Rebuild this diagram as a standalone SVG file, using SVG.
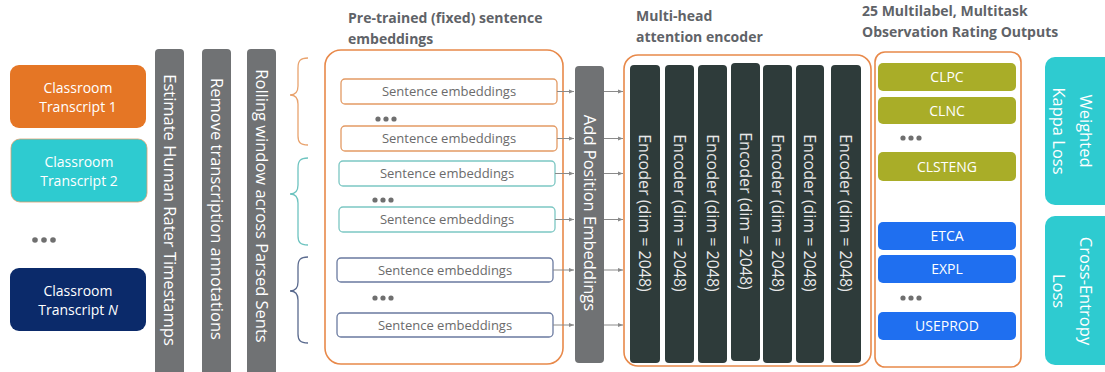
<svg xmlns="http://www.w3.org/2000/svg" width="1105" height="372" viewBox="0 0 1105 372">
<defs>
<marker id="ah" markerWidth="6" markerHeight="6" refX="5" refY="3" orient="auto" markerUnits="userSpaceOnUse">
<path d="M0,1 L5,3 L0,5 Z" fill="#8a8a8a"/>
</marker>
<style>
.hdr{font-family:"Open Sans","Liberation Sans",sans-serif;font-weight:700;font-size:14px;fill:#5f6368}
.tw{font-family:"Open Sans","Liberation Sans",sans-serif;fill:#ffffff}
.bar{fill:#707274}
.vt{font-family:"Open Sans","Liberation Sans",sans-serif;font-size:16.5px;fill:#ffffff}
.se{fill:#ffffff;stroke-width:1.3}
.set{font-family:"Open Sans","Liberation Sans",sans-serif;font-size:13px;fill:#6b6b6b;text-anchor:middle}
.dot{fill:#6f6f6f}
.enc{fill:#2e3b3a}
.et{font-family:"Open Sans","Liberation Sans",sans-serif;font-size:16px;fill:#e8e8e8}
.olive{fill:#a9ad28}
.blue{fill:#1f6ff0}
.lab{font-family:"Open Sans","Liberation Sans",sans-serif;font-size:14px;fill:#ffffff;text-anchor:middle}
.loss{fill:#2ecbd0}
.conn{stroke:#8a8a8a;stroke-width:1;fill:none}
.brace{fill:none;stroke-width:1.3}
.frame{fill:none;stroke:#e8894a;stroke-width:1.6}
</style>
</defs>
<rect width="1105" height="372" fill="#ffffff"/>

<!-- Headers -->
<g id="hdr-embed"><text class="hdr" x="348" y="23">Pre-trained (fixed) sentence</text><text class="hdr" x="348" y="44">embeddings</text></g>
<g id="hdr-encoder"><text class="hdr" x="636" y="21">Multi-head</text><text class="hdr" x="636" y="42">attention encoder</text></g>
<g id="hdr-outputs"><text class="hdr" x="862" y="16">25 Multilabel, Multitask</text><text class="hdr" x="862" y="37">Observation Rating Outputs</text></g>

<!-- Transcripts -->
<g id="transcript1"><rect x="10" y="65" width="136" height="63" rx="9" fill="#e57625"/>
<text class="tw" font-size="14" text-anchor="middle" x="78" y="93">Classroom</text><text class="tw" font-size="14" text-anchor="middle" x="78" y="112">Transcript 1</text></g>
<g id="transcript2"><rect x="11" y="139" width="136" height="63" rx="9" fill="#2ecbd0" stroke="#d9a070" stroke-width="0.8"/>
<text class="tw" font-size="14" text-anchor="middle" x="79" y="167">Classroom</text><text class="tw" font-size="14" text-anchor="middle" x="79" y="186">Transcript 2</text></g>
<g id="dots-left"><circle class="dot" cx="35" cy="240" r="2.8"/><circle class="dot" cx="44" cy="240" r="2.8"/><circle class="dot" cx="53" cy="240" r="2.8"/></g>
<g id="transcriptN"><rect x="10" y="268" width="136" height="63" rx="9" fill="#0b2a6a"/>
<text class="tw" font-size="14" text-anchor="middle" x="78" y="296">Classroom</text><text class="tw" font-size="14" text-anchor="middle" x="78" y="315">Transcript <tspan font-style="italic">N</tspan></text></g>

<!-- Processing bars -->
<g id="bar-timestamps"><rect class="bar" x="155" y="49" width="29" height="330" rx="4"/>
<text class="vt" text-anchor="middle" transform="translate(169.5,210) rotate(90)" dy="6">Estimate Human Rater Timestamps</text></g>
<g id="bar-remove"><rect class="bar" x="202" y="49" width="29" height="330" rx="4"/>
<text class="vt" text-anchor="middle" transform="translate(216.5,209) rotate(90)" dy="6">Remove transcription annotations</text></g>
<g id="bar-rolling"><rect class="bar" x="247" y="49" width="29" height="330" rx="4"/>
<text class="vt" text-anchor="middle" transform="translate(261.5,206) rotate(90)" dy="6">Rolling window across Parsed Sents</text></g>

<!-- Braces -->
<g id="braces">
<path class="brace" stroke="#e9a36e" d="M308,58 C300,58 298,61 298,68 L298,86 C298,92 296,95 290,95 C296,95 298,98 298,104 L298,136 C298,142 300,145 308,145"/>
<path class="brace" stroke="#6ec4c0" d="M308,158 C300,158 298,161 298,168 L298,185 C298,191 296,194 290,194 C296,194 298,197 298,203 L298,236 C298,242 300,245 308,245"/>
<path class="brace" stroke="#5a6a8e" d="M308,257 C300,257 298,260 298,267 L298,282 C298,288 296,291 290,291 C296,291 298,294 298,300 L298,334 C298,340 300,343 308,343"/>
</g>

<!-- Embeddings frame -->
<g id="embed-frame"><rect class="frame" x="325" y="50" width="238" height="314" rx="16"/></g>
<g id="emb1"><rect class="se" stroke="#e39a64" x="341" y="79" width="216" height="25" rx="4"/><text class="set" x="449" y="96">Sentence embeddings</text></g>
<g id="dots-e1"><circle class="dot" cx="378" cy="119" r="2.6"/><circle class="dot" cx="386" cy="119" r="2.6"/><circle class="dot" cx="394" cy="119" r="2.6"/></g>
<g id="emb2"><rect class="se" stroke="#e39a64" x="341" y="126" width="216" height="25" rx="4"/><text class="set" x="449" y="143">Sentence embeddings</text></g>
<g id="emb3"><rect class="se" stroke="#7cc7c3" x="339" y="161" width="216" height="25" rx="4"/><text class="set" x="447" y="178">Sentence embeddings</text></g>
<g id="dots-e2"><circle class="dot" cx="375" cy="200" r="2.6"/><circle class="dot" cx="383" cy="200" r="2.6"/><circle class="dot" cx="391" cy="200" r="2.6"/></g>
<g id="emb4"><rect class="se" stroke="#7cc7c3" x="339" y="207" width="216" height="25" rx="4"/><text class="set" x="447" y="224">Sentence embeddings</text></g>
<g id="emb5"><rect class="se" stroke="#6a7aa0" x="337" y="258" width="216" height="24" rx="4"/><text class="set" x="445" y="275">Sentence embeddings</text></g>
<g id="dots-e3"><circle class="dot" cx="375" cy="298" r="2.6"/><circle class="dot" cx="383" cy="298" r="2.6"/><circle class="dot" cx="391" cy="298" r="2.6"/></g>
<g id="emb6"><rect class="se" stroke="#6a7aa0" x="337" y="313" width="216" height="24" rx="4"/><text class="set" x="445" y="330">Sentence embeddings</text></g>

<!-- Add Position Embeddings -->
<g id="add-pos"><rect class="bar" x="575" y="66" width="29" height="297" rx="4"/>
<text class="vt" text-anchor="middle" transform="translate(589.5,213) rotate(90)" dy="6">Add Position Embeddings</text></g>

<!-- Encoder frame -->
<g id="encoder-frame"><rect class="frame" x="624" y="55" width="247" height="311" rx="14"/></g>
<g id="enc1"><rect class="enc" x="630" y="65" width="30" height="298" rx="4"/><text class="et" text-anchor="middle" transform="translate(645,213) rotate(90)" dy="6">Encoder (dim = 2048)</text></g>
<g id="enc2"><rect class="enc" x="665" y="65" width="29" height="298" rx="4"/><text class="et" text-anchor="middle" transform="translate(679.5,213) rotate(90)" dy="6">Encoder (dim = 2048)</text></g>
<g id="enc3"><rect class="enc" x="698" y="65" width="29" height="298" rx="4"/><text class="et" text-anchor="middle" transform="translate(712.5,213) rotate(90)" dy="6">Encoder (dim = 2048)</text></g>
<g id="enc4"><rect class="enc" x="731" y="63" width="29" height="298" rx="4"/><text class="et" text-anchor="middle" transform="translate(745.5,211) rotate(90)" dy="6">Encoder (dim = 2048)</text></g>
<g id="enc5"><rect class="enc" x="763" y="65" width="29" height="298" rx="4"/><text class="et" text-anchor="middle" transform="translate(777.5,213) rotate(90)" dy="6">Encoder (dim = 2048)</text></g>
<g id="enc6"><rect class="enc" x="796" y="65" width="28" height="298" rx="4"/><text class="et" text-anchor="middle" transform="translate(810,213) rotate(90)" dy="6">Encoder (dim = 2048)</text></g>
<g id="enc7"><rect class="enc" x="831" y="65" width="30" height="298" rx="4"/><text class="et" text-anchor="middle" transform="translate(846,213) rotate(90)" dy="6">Encoder (dim = 2048)</text></g>

<!-- Outputs -->
<g id="outputs-frame"><rect class="frame" x="875" y="52" width="146" height="315" rx="10"/></g>
<g id="clpc"><rect class="olive" x="878" y="63" width="138" height="28" rx="5"/><text class="lab" x="947" y="82">CLPC</text></g>
<g id="clnc"><rect class="olive" x="878" y="97" width="138" height="27" rx="5"/><text class="lab" x="947" y="115.5">CLNC</text></g>
<g id="dots-o1"><circle class="dot" cx="903" cy="138" r="2.6"/><circle class="dot" cx="911" cy="138" r="2.6"/><circle class="dot" cx="919" cy="138" r="2.6"/></g>
<g id="clsteng"><rect class="olive" x="878" y="152" width="138" height="29" rx="5"/><text class="lab" x="947" y="171.5">CLSTENG</text></g>
<g id="etca"><rect class="blue" x="878" y="222" width="138" height="28" rx="5"/><text class="lab" x="947" y="241">ETCA</text></g>
<g id="expl"><rect class="blue" x="878" y="255" width="138" height="28" rx="5"/><text class="lab" x="947" y="274">EXPL</text></g>
<g id="dots-o2"><circle class="dot" cx="903" cy="298" r="2.6"/><circle class="dot" cx="911" cy="298" r="2.6"/><circle class="dot" cx="919" cy="298" r="2.6"/></g>
<g id="useprod"><rect class="blue" x="878" y="312" width="138" height="28" rx="5"/><text class="lab" x="947" y="331">USEPROD</text></g>

<!-- Losses -->
<g id="loss-kappa"><rect class="loss" x="1045" y="57" width="75" height="148" rx="10"/>
<text class="vt" font-size="18" text-anchor="middle" transform="translate(1074,131) rotate(90)"><tspan x="0" dy="-6">Weighted</tspan><tspan x="0" dy="27">Kappa Loss</tspan></text></g>
<g id="loss-ce"><rect class="loss" x="1045" y="216" width="75" height="149" rx="10"/>
<text class="vt" font-size="18" text-anchor="middle" transform="translate(1074,291) rotate(90)"><tspan x="0" dy="-6">Cross-Entropy</tspan><tspan x="0" dy="27">Loss</tspan></text></g>

<!-- Connectors -->
<g id="connectors">
<line class="conn" x1="557" y1="91.5" x2="574" y2="91.5" marker-end="url(#ah)"/>
<line class="conn" x1="557" y1="138.5" x2="574" y2="138.5" marker-end="url(#ah)"/>
<line class="conn" x1="555" y1="173.5" x2="574" y2="173.5" marker-end="url(#ah)"/>
<line class="conn" x1="555" y1="219.5" x2="574" y2="219.5" marker-end="url(#ah)"/>
<line class="conn" x1="553" y1="270" x2="574" y2="270" marker-end="url(#ah)"/>
<line class="conn" x1="553" y1="325" x2="574" y2="325" marker-end="url(#ah)"/>
<line class="conn" x1="604" y1="91.5" x2="623" y2="91.5" marker-end="url(#ah)"/>
<line class="conn" x1="604" y1="138.5" x2="623" y2="138.5" marker-end="url(#ah)"/>
<line class="conn" x1="604" y1="173.5" x2="623" y2="173.5" marker-end="url(#ah)"/>
<line class="conn" x1="604" y1="219.5" x2="623" y2="219.5" marker-end="url(#ah)"/>
<line class="conn" x1="604" y1="270" x2="623" y2="270" marker-end="url(#ah)"/>
<line class="conn" x1="604" y1="325" x2="623" y2="325" marker-end="url(#ah)"/>
</g>
</svg>
